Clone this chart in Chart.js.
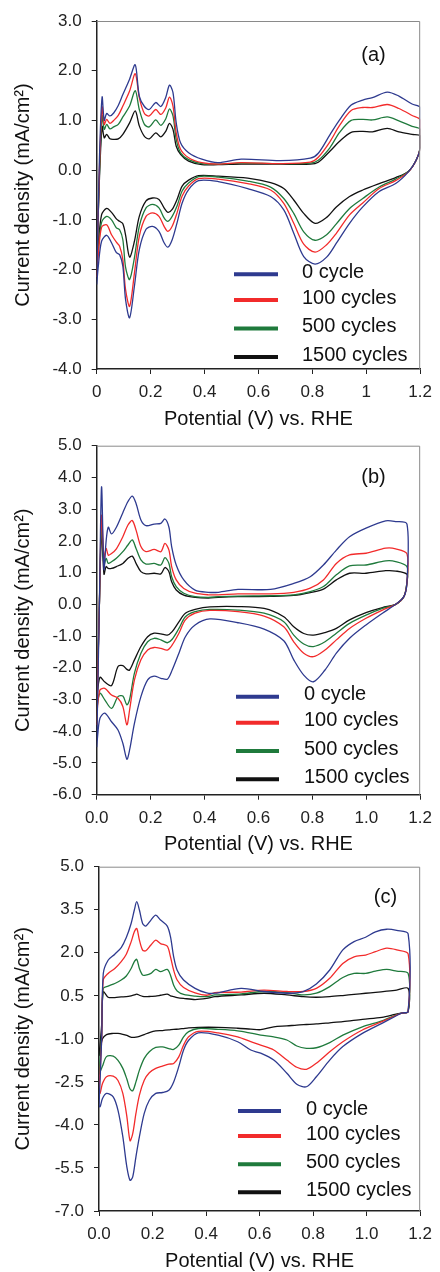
<!DOCTYPE html>
<html>
<head>
<meta charset="utf-8">
<script src="https://cdn.jsdelivr.net/npm/chart.js@4.4.1/dist/chart.umd.min.js"></script>
<style>
  html, body { margin: 0; padding: 0; background: #fff; }
  body { width: 440px; height: 1272px; position: relative; overflow: hidden; }
  .panel { position: absolute; left: 0; width: 440px; height: 440px; }
</style>
</head>
<body>
<div class="panel" style="top:0"><canvas id="chartA"></canvas></div>
<div class="panel" style="top:420px"><canvas id="chartB"></canvas></div>
<div class="panel" style="top:832px"><canvas id="chartC"></canvas></div>
<script>
const FONT = '"Liberation Sans", Arial, sans-serif';

const seriesLabels = ['0 cycle', '100 cycles', '500 cycles', '1500 cycles'];
const seriesColors = ['#2e3a8f', '#f22b2b', '#1f7a3c', '#111111'];

// ---- panel (a): potential grids (V) and current density (mA/cm2)
const potA_fwd = [0, 0.01, 0.02, 0.028, 0.037, 0.049, 0.063, 0.08, 0.097, 0.122, 0.143, 0.158, 0.177, 0.195, 0.219, 0.238, 0.256, 0.27, 0.283, 0.295, 0.311, 0.341, 0.39, 0.45, 0.536, 0.682, 0.792, 0.822, 0.865, 0.901, 0.944, 0.987, 1.023, 1.078, 1.121, 1.17, 1.2];
const a0_fwd = [-2.3, 0.2, 1.47, 1.0, 1.14, 1.09, 1.15, 1.3, 1.52, 1.83, 2.12, 1.49, 1.28, 1.22, 1.36, 1.28, 1.46, 1.71, 1.56, 0.95, 0.55, 0.35, 0.22, 0.15, 0.22, 0.19, 0.24, 0.34, 0.71, 1.01, 1.31, 1.41, 1.46, 1.57, 1.49, 1.33, 1.26];
const a100_fwd = [-2.15, 0.0, 1.27, 0.92, 1.02, 0.94, 1.0, 1.1, 1.29, 1.59, 1.94, 1.46, 1.14, 1.09, 1.22, 1.12, 1.25, 1.47, 1.29, 0.75, 0.42, 0.25, 0.15, 0.12, 0.15, 0.13, 0.16, 0.26, 0.57, 0.9, 1.2, 1.26, 1.26, 1.32, 1.24, 1.1, 1.01];
const a500_fwd = [-2.0, -0.1, 1.1, 0.82, 0.92, 0.83, 0.87, 0.92, 1.07, 1.29, 1.6, 1.22, 0.92, 0.87, 1.01, 0.9, 1.03, 1.23, 1.09, 0.62, 0.35, 0.21, 0.13, 0.12, 0.14, 0.13, 0.14, 0.2, 0.45, 0.76, 1.0, 1.02, 1.01, 1.07, 0.99, 0.88, 0.82];
const a1500_fwd = [-1.9, -0.2, 0.88, 0.65, 0.72, 0.63, 0.62, 0.63, 0.72, 0.95, 1.19, 0.89, 0.68, 0.63, 0.75, 0.67, 0.78, 0.94, 0.82, 0.48, 0.32, 0.18, 0.11, 0.11, 0.12, 0.12, 0.12, 0.16, 0.38, 0.58, 0.76, 0.78, 0.77, 0.84, 0.77, 0.72, 0.69];
const potA_rev = [1.2, 1.185, 1.157, 1.109, 1.048, 0.987, 0.938, 0.889, 0.853, 0.81, 0.768, 0.731, 0.694, 0.645, 0.56, 0.451, 0.378, 0.341, 0.317, 0.298, 0.28, 0.264, 0.25, 0.231, 0.207, 0.183, 0.158, 0.14, 0.122, 0.107, 0.097, 0.085, 0.073, 0.055, 0.037, 0.018, 0.006, 0];
const a0_rev = [0.45, 0.2, -0.03, -0.27, -0.43, -0.74, -1.07, -1.47, -1.75, -1.89, -1.74, -1.27, -0.8, -0.53, -0.37, -0.23, -0.21, -0.39, -0.66, -1.06, -1.4, -1.55, -1.46, -1.23, -1.13, -1.19, -1.6, -2.33, -2.97, -2.6, -1.93, -1.7, -1.66, -1.46, -1.31, -1.43, -1.93, -2.3];
const a100_rev = [0.45, 0.2, -0.03, -0.21, -0.37, -0.66, -0.9, -1.27, -1.5, -1.65, -1.49, -1.07, -0.67, -0.4, -0.27, -0.18, -0.17, -0.32, -0.52, -0.86, -1.13, -1.23, -1.13, -0.93, -0.86, -0.93, -1.33, -2.07, -2.74, -2.4, -1.8, -1.53, -1.45, -1.3, -1.1, -1.15, -1.7, -2.15];
const a500_rev = [0.45, 0.2, -0.02, -0.18, -0.34, -0.57, -0.77, -1.08, -1.3, -1.41, -1.24, -0.87, -0.57, -0.34, -0.22, -0.14, -0.13, -0.26, -0.42, -0.72, -0.93, -1.03, -0.96, -0.76, -0.69, -0.76, -1.13, -1.76, -2.2, -1.95, -1.4, -1.2, -1.16, -1.0, -0.93, -1.05, -1.6, -2.0];
const a1500_rev = [0.45, 0.2, -0.02, -0.15, -0.27, -0.4, -0.53, -0.74, -0.95, -1.07, -0.87, -0.6, -0.37, -0.25, -0.16, -0.12, -0.11, -0.2, -0.32, -0.59, -0.79, -0.85, -0.76, -0.59, -0.56, -0.62, -0.93, -1.43, -1.75, -1.3, -1.08, -1.03, -0.98, -0.85, -0.77, -0.9, -1.5, -1.9];

// ---- panel (b)
const potB_fwd = [0, 0.01, 0.018, 0.027, 0.035, 0.043, 0.055, 0.073, 0.097, 0.116, 0.132, 0.146, 0.164, 0.183, 0.213, 0.238, 0.253, 0.268, 0.278, 0.295, 0.323, 0.365, 0.414, 0.451, 0.524, 0.645, 0.731, 0.792, 0.841, 0.889, 0.938, 0.999, 1.072, 1.109, 1.151];
const b0_fwd = [-4.5, 0.0, 3.7, 1.1, 2.0, 2.43, 2.22, 2.43, 2.89, 3.24, 3.41, 3.18, 2.66, 2.48, 2.53, 2.55, 2.69, 2.43, 1.82, 1.24, 0.77, 0.45, 0.38, 0.38, 0.47, 0.47, 0.66, 0.87, 1.24, 1.71, 2.13, 2.4, 2.63, 2.61, 2.53];
const b100_fwd = [-3.8, 0.0, 2.8, 1.45, 1.76, 1.55, 1.6, 1.75, 2.13, 2.5, 2.64, 2.34, 1.82, 1.66, 1.73, 1.66, 1.92, 1.71, 1.19, 0.77, 0.5, 0.35, 0.3, 0.3, 0.33, 0.33, 0.38, 0.51, 0.77, 1.29, 1.56, 1.61, 1.77, 1.75, 1.59];
const b500_fwd = [-3.7, 0.0, 2.5, 1.24, 1.45, 1.29, 1.34, 1.45, 1.66, 1.87, 2.03, 1.76, 1.4, 1.27, 1.29, 1.24, 1.47, 1.29, 0.87, 0.56, 0.35, 0.24, 0.22, 0.24, 0.26, 0.27, 0.3, 0.4, 0.56, 0.93, 1.21, 1.24, 1.37, 1.35, 1.19];
const b1500_fwd = [-3.5, 0.0, 2.3, 0.95, 1.19, 1.13, 1.13, 1.19, 1.29, 1.45, 1.52, 1.29, 1.03, 0.96, 0.98, 0.96, 1.16, 1.03, 0.71, 0.45, 0.29, 0.22, 0.2, 0.22, 0.24, 0.25, 0.28, 0.37, 0.48, 0.77, 0.98, 0.98, 1.06, 1.05, 0.95];
const potB_rev = [1.151, 1.14, 1.109, 1.06, 0.999, 0.938, 0.889, 0.847, 0.804, 0.768, 0.731, 0.694, 0.621, 0.524, 0.42, 0.365, 0.329, 0.305, 0.28, 0.262, 0.238, 0.213, 0.189, 0.164, 0.14, 0.122, 0.112, 0.097, 0.079, 0.055, 0.03, 0.012, 0.002, 0];
const b0_rev = [0.7, 0.25, 0.0, -0.28, -0.65, -1.07, -1.54, -2.07, -2.44, -2.23, -1.75, -1.15, -0.78, -0.58, -0.46, -0.65, -1.02, -1.54, -2.07, -2.36, -2.33, -2.26, -2.38, -2.91, -3.75, -4.59, -4.88, -4.38, -3.96, -3.7, -3.43, -3.59, -4.28, -4.5];
const b100_rev = [0.7, 0.25, 0.0, -0.18, -0.44, -0.76, -1.12, -1.44, -1.65, -1.54, -1.18, -0.71, -0.37, -0.23, -0.19, -0.28, -0.49, -0.91, -1.28, -1.44, -1.39, -1.36, -1.44, -1.75, -2.38, -3.33, -3.8, -3.22, -2.96, -2.86, -2.65, -2.7, -3.33, -3.8];
const b500_rev = [0.7, 0.25, 0.0, -0.13, -0.34, -0.6, -0.91, -1.18, -1.33, -1.25, -0.97, -0.55, -0.28, -0.18, -0.16, -0.23, -0.39, -0.76, -1.1, -1.21, -1.12, -1.07, -1.18, -1.54, -2.17, -3.0, -3.17, -2.89, -2.91, -3.28, -3.01, -2.8, -3.22, -3.7];
const b1500_rev = [0.7, 0.25, 0.0, -0.1, -0.26, -0.49, -0.76, -0.89, -0.97, -0.92, -0.71, -0.39, -0.13, -0.07, -0.08, -0.16, -0.28, -0.55, -0.86, -0.97, -0.93, -0.91, -1.02, -1.33, -1.75, -2.07, -2.05, -1.93, -1.96, -2.56, -2.45, -2.3, -2.9, -3.5];

// ---- panel (c)
const potC_fwd = [0, 0.01, 0.016, 0.034, 0.059, 0.083, 0.102, 0.12, 0.132, 0.141, 0.151, 0.163, 0.175, 0.194, 0.212, 0.23, 0.255, 0.267, 0.279, 0.292, 0.316, 0.359, 0.402, 0.433, 0.531, 0.616, 0.702, 0.763, 0.812, 0.862, 0.911, 0.953, 0.996, 1.033, 1.075, 1.112, 1.155];
const c0_fwd = [-3.35, -1.0, 1.28, 1.74, 1.95, 2.18, 2.53, 3.02, 3.49, 3.78, 3.49, 3.02, 2.93, 3.14, 3.31, 3.14, 2.93, 2.56, 1.86, 1.39, 1.05, 0.76, 0.6, 0.59, 0.76, 0.65, 0.59, 0.65, 0.91, 1.4, 2.1, 2.39, 2.54, 2.73, 2.82, 2.78, 2.66];
const c100_fwd = [-2.9, -1.0, 1.05, 1.28, 1.45, 1.69, 1.95, 2.38, 2.73, 2.85, 2.44, 2.09, 2.07, 2.27, 2.44, 2.32, 2.23, 1.86, 1.39, 1.05, 0.79, 0.6, 0.52, 0.61, 0.63, 0.7, 0.65, 0.65, 0.76, 1.11, 1.63, 1.86, 1.92, 2.04, 2.16, 2.1, 1.96];
const c500_fwd = [-2.25, -0.8, 0.76, 0.84, 0.93, 1.05, 1.19, 1.45, 1.69, 1.77, 1.45, 1.22, 1.22, 1.28, 1.42, 1.34, 1.42, 1.22, 0.87, 0.67, 0.55, 0.49, 0.47, 0.53, 0.57, 0.65, 0.61, 0.53, 0.59, 0.82, 1.14, 1.28, 1.28, 1.36, 1.42, 1.36, 1.28];
const c1500_fwd = [-1.6, -0.5, 0.64, 0.45, 0.44, 0.46, 0.47, 0.5, 0.53, 0.56, 0.52, 0.48, 0.47, 0.48, 0.49, 0.52, 0.56, 0.5, 0.47, 0.44, 0.41, 0.37, 0.41, 0.47, 0.53, 0.59, 0.53, 0.47, 0.45, 0.47, 0.51, 0.55, 0.59, 0.62, 0.66, 0.7, 0.76];
const potC_rev = [1.155, 1.13, 1.106, 1.057, 0.984, 0.911, 0.862, 0.812, 0.775, 0.739, 0.702, 0.653, 0.604, 0.567, 0.518, 0.445, 0.371, 0.335, 0.316, 0.298, 0.279, 0.261, 0.237, 0.212, 0.188, 0.169, 0.151, 0.138, 0.126, 0.116, 0.104, 0.089, 0.071, 0.053, 0.028, 0.013, 0.004, 0];
const c0_rev = [-0.05, -0.1, -0.22, -0.46, -0.81, -1.27, -1.74, -2.32, -2.67, -2.58, -2.2, -1.74, -1.5, -1.39, -1.1, -0.87, -0.79, -1.05, -1.39, -1.97, -2.5, -2.79, -2.87, -2.9, -3.14, -3.6, -4.41, -5.11, -5.81, -5.93, -5.46, -4.41, -3.49, -3.02, -2.9, -3.08, -3.37, -3.35];
const c100_rev = [-0.05, -0.1, -0.2, -0.4, -0.69, -1.1, -1.45, -1.85, -2.06, -1.99, -1.74, -1.39, -1.22, -1.1, -0.93, -0.79, -0.74, -0.93, -1.22, -1.63, -1.86, -1.88, -1.95, -2.03, -2.18, -2.44, -2.96, -3.6, -4.3, -4.55, -3.7, -2.9, -2.45, -2.3, -2.32, -2.56, -2.9, -2.9];
const c500_rev = [-0.05, -0.1, -0.18, -0.37, -0.58, -0.87, -1.13, -1.31, -1.33, -1.25, -1.04, -0.93, -0.87, -0.8, -0.72, -0.67, -0.64, -0.75, -0.93, -1.22, -1.37, -1.34, -1.28, -1.3, -1.45, -1.68, -2.09, -2.5, -2.81, -2.75, -2.4, -2.03, -1.75, -1.6, -1.62, -1.95, -2.15, -2.25];
const c1500_rev = [-0.05, -0.1, -0.15, -0.25, -0.32, -0.4, -0.44, -0.48, -0.5, -0.52, -0.55, -0.58, -0.68, -0.66, -0.63, -0.6, -0.6, -0.62, -0.64, -0.66, -0.67, -0.69, -0.71, -0.72, -0.78, -0.85, -0.91, -0.94, -0.95, -0.93, -0.88, -0.84, -0.81, -0.81, -0.85, -1.0, -1.4, -1.6];

// forward sweep followed by the reverse sweep -> one closed CV loop
const loop = (fwdX, fwdY, revX, revY) =>
  fwdX.map((x, i) => ({ x, y: fwdY[i] })).concat(revX.map((x, i) => ({ x, y: revY[i] })));

const fmt1 = v => (Math.round(v * 10) / 10).toFixed(1);
const fmtShort = v => String(Math.round(v * 10) / 10);

function makePanel(id, cfg) {
  const H = 440;
  const XH = 60; // height of x axis box (ticks + title)
  const { plot } = cfg;

  const decor = {
    id: 'decor' + id,
    afterDraw(chart) {
      const { ctx } = chart;
      const { left, top, right, bottom } = chart.chartArea;
      ctx.save();
      // grey top / right frame
      ctx.strokeStyle = '#8a8a8a';
      ctx.lineWidth = 1;
      ctx.beginPath();
      ctx.moveTo(left, top + 0.5);
      ctx.lineTo(right - 0.5, top + 0.5);
      ctx.lineTo(right - 0.5, bottom);
      ctx.stroke();

      ctx.fillStyle = '#111';
      ctx.font = `20px ${FONT}`;
      ctx.textBaseline = 'middle';
      ctx.textAlign = 'center';
      ctx.fillText(cfg.tag, cfg.tagPos[0], cfg.tagPos[1]);

      // legend inside the plot
      ctx.textAlign = 'left';
      chart.data.datasets.forEach((ds, i) => {
        const y = cfg.legend.rows[i];
        ctx.strokeStyle = ds.borderColor;
        ctx.lineWidth = 4;
        ctx.beginPath();
        ctx.moveTo(cfg.legend.x1, y);
        ctx.lineTo(cfg.legend.x2, y);
        ctx.stroke();
        ctx.fillText(ds.label, cfg.legend.tx, y - 2);
      });
      ctx.restore();
    }
  };

  return new Chart(document.getElementById(id), {
    type: 'scatter',
    data: {
      datasets: cfg.series.map((s, i) => ({
        label: seriesLabels[i],
        data: loop(cfg.fwdX, s[0], cfg.revX, s[1]),
        showLine: true,
        borderColor: seriesColors[i],
        borderWidth: 1.3,
        pointRadius: 0,
        tension: 0.3,
        fill: false
      }))
    },
    options: {
      responsive: true,
      maintainAspectRatio: false,
      animation: false,
      layout: {
        padding: { top: plot.top, right: 440 - plot.right, bottom: H - plot.bottom - XH, left: 0 }
      },
      plugins: { legend: { display: false }, tooltip: { enabled: false } },
      scales: {
        x: {
          type: 'linear',
          min: 0,
          max: 1.2,
          afterFit: s => { s.height = XH; },
          ticks: { stepSize: 0.2, padding: 8, color: '#222', font: { family: FONT, size: 17 }, callback: cfg.xFmt },
          grid: { drawOnChartArea: false, drawTicks: true, tickLength: 5, color: '#222' },
          border: { color: '#222', width: 1.5 },
          title: {
            display: true,
            text: 'Potential (V) vs. RHE',
            color: '#111',
            font: { family: FONT, size: 20, lineHeight: 1 },
            padding: { top: 0, bottom: 0 }
          }
        },
        y: {
          type: 'linear',
          min: cfg.yMin,
          max: cfg.yMax,
          afterFit: s => { s.width = plot.left; },
          ticks: { stepSize: cfg.yStep, padding: 10, color: '#222', font: { family: FONT, size: 17 }, callback: fmt1 },
          grid: { drawOnChartArea: false, drawTicks: true, tickLength: 5, color: '#222' },
          border: { color: '#222', width: 1.5 },
          title: {
            display: true,
            text: 'Current density (mA/cm²)',
            color: '#111',
            font: { family: FONT, size: 20, lineHeight: 1 },
            padding: { top: 13, bottom: 0 }
          }
        }
      }
    },
    plugins: [decor]
  });
}

makePanel('chartA', {
  fwdX: potA_fwd, revX: potA_rev,
  series: [[a0_fwd, a0_rev], [a100_fwd, a100_rev], [a500_fwd, a500_rev], [a1500_fwd, a1500_rev]],
  yMin: -4, yMax: 3, yStep: 1, xFmt: fmtShort,
  plot: { left: 96.7, top: 21, right: 425, bottom: 369 },
  tag: '(a)', tagPos: [373.5, 55],
  legend: { x1: 234, x2: 278, tx: 302, rows: [274.3, 300, 328.5, 357] }
});

makePanel('chartB', {
  fwdX: potB_fwd, revX: potB_rev,
  series: [[b0_fwd, b0_rev], [b100_fwd, b100_rev], [b500_fwd, b500_rev], [b1500_fwd, b1500_rev]],
  yMin: -6, yMax: 5, yStep: 1, xFmt: fmt1,
  plot: { left: 96.7, top: 25.7, right: 425.3, bottom: 374.7 },
  tag: '(b)', tagPos: [373.5, 57],
  legend: { x1: 236, x2: 279, tx: 304, rows: [276.7, 302.7, 331, 359.3] }
});

makePanel('chartC', {
  fwdX: potC_fwd, revX: potC_rev,
  series: [[c0_fwd, c0_rev], [c100_fwd, c100_rev], [c500_fwd, c500_rev], [c1500_fwd, c1500_rev]],
  yMin: -7, yMax: 5, yStep: 1.5, xFmt: fmt1,
  plot: { left: 99, top: 34.7, right: 425.3, bottom: 379 },
  tag: '(c)', tagPos: [385.5, 65],
  legend: { x1: 238, x2: 281, tx: 306, rows: [279, 304, 332.3, 360.3] }
});
</script>
</body>
</html>
